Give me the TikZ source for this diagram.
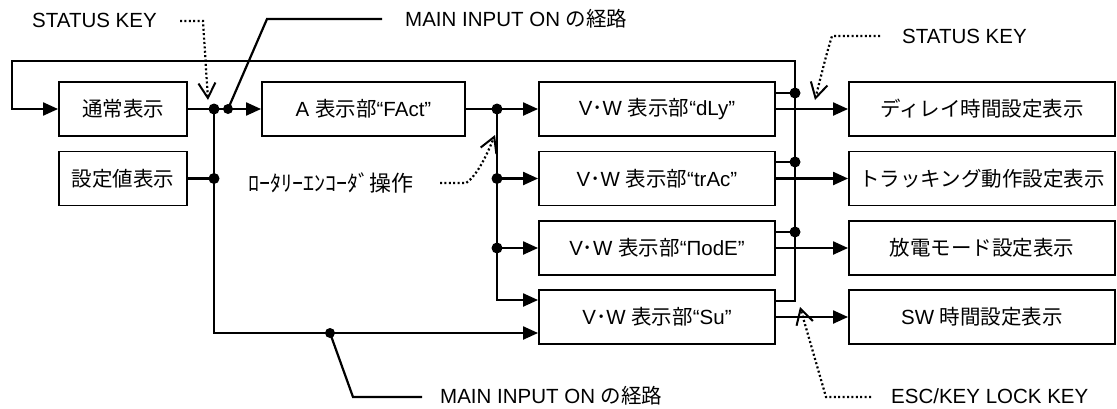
\documentclass[tikz,border=0pt]{standalone}
\usepackage{fontspec}
\setmainfont{Liberation Sans}
\newfontfamily\jp{Noto Sans CJK JP}
\usetikzlibrary{arrows.meta}
\newcommand\myfs{\fontsize{20.5}{24}\selectfont}
\begin{document}
\begin{tikzpicture}[x=1pt,y=-1pt,
 box/.style={draw, line width=1.9pt, minimum height=54pt, inner sep=0pt, font=\myfs},
 conn/.style={line width=2.2pt},
 arr/.style={conn, -{Triangle[length=15pt,width=13pt]}},
 note/.style={line width=2.2pt, dash pattern=on 2pt off 2.4pt, -{Straight Barb[length=15pt,width=17pt,line width=2pt]}},
 lbl/.style={inner sep=0pt, font=\myfs, anchor=base west}
]
\useasboundingbox[fill=white] (0,0) rectangle (1117,408);
% boxes
\node[box, minimum width=128pt] (n1) at (123,109) {{\jp 通常表示}};
\node[box, minimum width=128pt] (n2) at (123,178.5) {{\jp 設定値表示}};
\node[box, minimum width=203pt] (a) at (363.5,109) {A {\jp 表示部}“FAct”};
\node[box, minimum width=236pt] (v1) at (657,109) {V{\jp ･}W {\jp 表示部}“dLy”};
\node[box, minimum width=236pt] (v2) at (657,178.5) {V{\jp ･}W {\jp 表示部}“trAc”};
\node[box, minimum width=236pt] (v3) at (657,248) {V{\jp ･}W {\jp 表示部}“ΠodE”};
\node[box, minimum width=236pt] (v4) at (657,317) {V{\jp ･}W {\jp 表示部}“Su”};
\node[box, minimum width=266pt] (r1) at (982,109) {{\jp ディレイ時間設定表示}};
\node[box, minimum width=266pt] (r2) at (982,178.5) {{\jp トラッキング動作設定表示}};
\node[box, minimum width=266pt] (r3) at (982,248) {{\jp 放電モード設定表示}};
\node[box, minimum width=266pt] (r4) at (982,317) {SW {\jp 時間設定表示}};
% coordinates
\coordinate (j1) at (214,109);
\coordinate (j2) at (228,109);
\coordinate (j3) at (214,178.5);
\coordinate (cL) at (214,333);
\coordinate (jb) at (330,333);
\coordinate (m1) at (497,109);
\coordinate (m2) at (497,178.5);
\coordinate (m3) at (497,248);
\coordinate (cm) at (497,300);
\coordinate (b1) at (795,93);
\coordinate (b2) at (795,162);
\coordinate (b3) at (795,232);
\coordinate (b4) at (795,301);
\coordinate (btop) at (795,61);
\coordinate (lt) at (12,61);
% left part
\draw[conn] (n1.east) -- (j2);
\draw[arr] (j2) -- (a.west);
\draw[conn] (n2.east) -- (j3);
\draw[arr] (j1) -- (cL) -- (cL -| v4.west);
% middle part
\draw[conn] (a.east) -- (m1);
\draw[arr] (m1) -- (v1.west);
\draw[arr] (m2) -- (v2.west);
\draw[arr] (m3) -- (v3.west);
\draw[arr] (m1) -- (cm) -- (cm -| v4.west);
% right part
\draw[conn] (b1 -| v1.east) -- (b1);
\draw[conn] (b2 -| v2.east) -- (b2);
\draw[conn] (b3 -| v3.east) -- (b3);
\draw[arr] (b4 -| v4.east) -- (b4) -- (btop) -- (lt) |- (n1.west);
\draw[arr] (v1.east) -- (r1.west);
\draw[arr] (v2.east) -- (r2.west);
\draw[arr] (v3.east) -- (r3.west);
\draw[arr] (v4.east) -- (r4.west);
% dots
\foreach \p in {j1,j3,m1,m2,m3,b1,b2,b3} \fill (\p) circle (5.5pt);
\foreach \p in {j2,jb} \fill (\p) circle (5pt);
% labels
\node[lbl] (sk1) at (32,27) {STATUS KEY};
\coordinate (sk1a) at (180,21);
\coordinate (sk1b) at (203,21);
\coordinate (sk1t) at (208,100);
\draw[note] (sk1a) -- (sk1b) -- (sk1t);
\coordinate (t1) at (267,19);
\coordinate (t2) at (382,19);
\draw[conn] (j2) -- (t1) -- (t2);
\node[lbl] (mi1) at (405,26) {MAIN INPUT ON {\jp の経路}};
\node[lbl, font=\fontsize{22}{26}\selectfont] (ro) at (248,191) {{\jp ﾛｰﾀﾘｰｴﾝｺｰﾀﾞ操作}};
\coordinate (roa) at (440,183);
\coordinate (rob) at (466,183);
\coordinate (rot) at (495,135);
\draw[note] (roa) -- (rob) .. controls (478,175) and (488,152) .. (rot);
\node[lbl] (sk2) at (902,43) {STATUS KEY};
\coordinate (sk2a) at (880,36);
\coordinate (sk2b) at (832,36);
\coordinate (sk2t) at (815,100);
\draw[note] (sk2a) -- (sk2b) .. controls (826,55) and (820,80) .. (sk2t);
\node[lbl] (esc) at (891,403) {ESC/KEY LOCK KEY};
\coordinate (esa) at (871,397);
\coordinate (esb) at (826,397);
\coordinate (est) at (800,307);
\draw[note] (esa) -- (esb) -- (est);
\coordinate (u1) at (353,397);
\coordinate (u2) at (422,397);
\draw[conn] (jb) -- (u1) -- (u2);
\node[lbl] (mi2) at (440,403) {MAIN INPUT ON {\jp の経路}};
\end{tikzpicture}
\end{document}
